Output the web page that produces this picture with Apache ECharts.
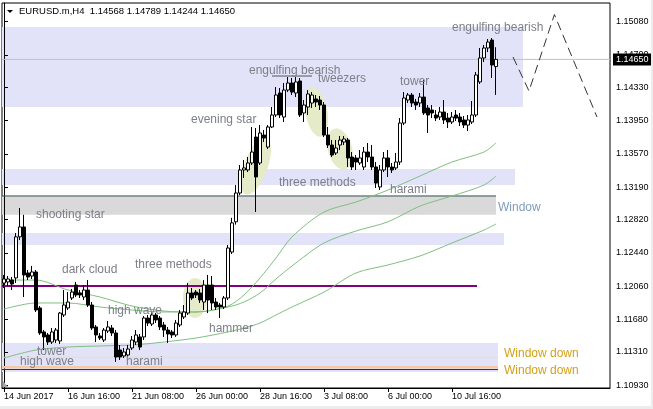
<!DOCTYPE html>
<html><head><meta charset="utf-8">
<script src="https://cdn.jsdelivr.net/npm/echarts@6/dist/echarts.min.js"></script>
<style>html,body{margin:0;padding:0;background:#fff}#c{width:653px;height:409px}</style>
</head><body><div id="c"></div>
<script>
const symbol = 'EURUSD.m,H4';
// H4 bars from 14 Jun 2017 00:00
const openP = [1.12096,1.12108,1.12130,1.12154,1.12623,1.12736,1.12211,1.12176,1.12222,1.11811,
1.11537,1.11503,1.11422,1.11445,1.11434,1.11731,1.11811,1.11925,1.12073,1.11982,
1.11936,1.12016,1.11845,1.11594,1.11491,1.11445,1.11548,1.11582,1.11525,1.11331,
1.11263,1.11274,1.11354,1.11422,1.11480,1.11480,1.11696,1.11628,1.11731,1.11696,
1.11617,1.11559,1.11537,1.11503,1.11617,1.11708,1.11753,1.11982,1.11993,1.11982,
1.11879,1.12073,1.12073,1.11879,1.11845,1.11822,1.11925,1.12450,1.12795,1.13124,
1.13387,1.13387,1.13467,1.13763,1.13467,1.13786,1.13649,1.13878,1.14015,1.14266,
1.13992,1.14300,1.14380,1.14266,1.14403,1.14038,1.14106,1.14152,1.14198,1.14186,
1.14129,1.13786,1.13672,1.13581,1.13672,1.13706,1.13729,1.13535,1.13524,1.13467,
1.13421,1.13592,1.13535,1.13421,1.13193,1.13387,1.13524,1.13421,1.13410,1.13478,
1.13923,1.14186,1.14243,1.14163,1.14152,1.14220,1.14095,1.14072,1.14015,1.13992,
1.14049,1.13980,1.13935,1.14015,1.13992,1.13958,1.13900,1.13935,1.14015,1.14392,
1.14666,1.14780,1.14871,1.14568];
const highP = [1.12188,1.12176,1.12165,1.12667,1.12953,1.12875,1.12245,1.12291,1.12245,1.11833,
1.11559,1.11525,1.11582,1.11582,1.11765,1.12016,1.11993,1.12028,1.12108,1.12016,
1.12073,1.12130,1.11879,1.11617,1.11525,1.11582,1.11662,1.11617,1.11559,1.11388,
1.11354,1.11388,1.11491,1.11559,1.11514,1.11719,1.11731,1.11765,1.11753,1.11719,
1.11651,1.11594,1.11559,1.11674,1.11788,1.11845,1.12096,1.12039,1.12016,1.12028,
1.12130,1.12188,1.12176,1.11925,1.11868,1.11948,1.12530,1.12840,1.13215,1.13444,
1.13501,1.13535,1.13878,1.13866,1.13900,1.13843,1.13900,1.14106,1.14334,1.14323,
1.14380,1.14449,1.14437,1.14449,1.14437,1.14186,1.14300,1.14277,1.14243,1.14232,
1.14163,1.13878,1.13729,1.13729,1.13775,1.13775,1.13752,1.13592,1.13558,1.13615,
1.13649,1.13695,1.13672,1.13478,1.13444,1.13592,1.13615,1.13467,1.13581,1.13980,
1.14277,1.14266,1.14266,1.14198,1.14266,1.14414,1.14129,1.14129,1.14072,1.14106,
1.14186,1.14038,1.14049,1.14072,1.14038,1.14003,1.14015,1.14175,1.14506,1.14780,
1.14814,1.14883,1.14894,1.14789];
const lowP = [1.12039,1.12062,1.12016,1.12096,1.12587,1.11936,1.12130,1.12142,1.11765,1.11503,
1.11331,1.11388,1.11400,1.11411,1.11400,1.11708,1.11788,1.11902,1.11936,1.11925,
1.11902,1.11822,1.11559,1.11422,1.11445,1.11422,1.11525,1.11491,1.11194,1.11217,
1.11240,1.11251,1.11331,1.11388,1.11331,1.11445,1.11605,1.11605,1.11639,1.11559,
1.11480,1.11411,1.11468,1.11480,1.11594,1.11685,1.11731,1.11902,1.11925,1.11868,
1.11788,1.11753,1.11788,1.11788,1.11696,1.11799,1.11902,1.12427,1.12763,1.13101,
1.13295,1.13364,1.13444,1.12907,1.13444,1.13706,1.13626,1.13866,1.13992,1.13980,
1.13935,1.14277,1.14243,1.14220,1.13992,1.13935,1.14015,1.14095,1.14106,1.14072,
1.13763,1.13638,1.13535,1.13558,1.13615,1.13672,1.13421,1.13387,1.13387,1.13444,
1.13387,1.13478,1.13387,1.13181,1.13158,1.13364,1.13307,1.13353,1.13387,1.13444,
1.13900,1.14152,1.14106,1.14072,1.14106,1.14015,1.13809,1.13980,1.13946,1.13958,
1.13912,1.13866,1.13912,1.13946,1.13889,1.13866,1.13832,1.13912,1.13992,1.14369,
1.14620,1.14734,1.14437,1.14244];
const closeP = [1.12142,1.12142,1.12085,1.12623,1.12736,1.12188,1.12165,1.12222,1.11788,1.11525,
1.11480,1.11422,1.11537,1.11559,1.11753,1.11845,1.11879,1.11993,1.11959,1.11959,
1.12016,1.11845,1.11582,1.11503,1.11468,1.11559,1.11594,1.11525,1.11251,1.11251,
1.11308,1.11342,1.11445,1.11503,1.11365,1.11696,1.11639,1.11731,1.11674,1.11594,
1.11559,1.11514,1.11503,1.11639,1.11753,1.11765,1.11982,1.11925,1.11959,1.11902,
1.12073,1.11902,1.11868,1.11822,1.11822,1.11925,1.12496,1.12783,1.13124,1.13387,
1.13410,1.13467,1.13592,1.13307,1.13809,1.13752,1.13878,1.14015,1.14243,1.14015,
1.14300,1.14380,1.14277,1.14392,1.14015,1.14129,1.14255,1.14243,1.14163,1.14129,
1.13786,1.13672,1.13558,1.13638,1.13729,1.13741,1.13524,1.13421,1.13478,1.13524,
1.13592,1.13535,1.13421,1.13238,1.13387,1.13524,1.13421,1.13387,1.13478,1.13923,
1.14209,1.14243,1.14152,1.14129,1.14220,1.14038,1.14015,1.14038,1.13980,1.14049,
1.13958,1.13935,1.13992,1.13980,1.13935,1.13900,1.13958,1.14015,1.14472,1.14666,
1.14780,1.14848,1.14586,1.14650];

const yTicks = [1.10930,1.11310,1.11680,1.12060,1.12440,1.12820,1.13190,1.13570,1.13950,1.14330,1.14700,1.15080];

// moving averages read at bar indices
const maIdx  = [0,8,16,24,32,40,48,56,60,64,68,72,80,88,96,104,112,120,123];
const maFast = [1.12130,1.12130,1.12016,1.11936,1.11833,1.11776,1.11765,1.11833,1.11959,1.12154,1.12382,1.12623,1.12907,1.13021,1.13158,1.13318,1.13478,1.13592,1.13695];
const maMid  = [1.11799,1.11868,1.11868,1.11822,1.11788,1.11765,1.11765,1.11822,1.11879,1.11982,1.12142,1.12291,1.12553,1.12690,1.12795,1.12975,1.13090,1.13215,1.13318];
const maSlow = [1.11240,1.11331,1.11365,1.11377,1.11388,1.11422,1.11468,1.11537,1.11582,1.11639,1.11731,1.11822,1.11993,1.12211,1.12302,1.12405,1.12553,1.12701,1.12770];

// zones (bar index range, price range)
const zoneStart  = [-0.5,-0.5,-0.5,-0.5,-0.5];
const zoneEnd    = [129.75,127.75,123,125,123.5];
const zoneTop    = [1.15020,1.13398,1.13090,1.12667,1.11411];
const zoneBottom = [1.14106,1.13215,1.12875,1.12530,1.11080];

// horizontal levels (last one = current price line)
const levelStart = [-0.5,-0.5,-0.5,-0.5,-0.5,67,-0.5];
const levelEnd   = [118.25,123,123.5,123.5,123.5,77,151.5];
const levelPrice = [1.12062,1.13090,1.11248,1.11133,1.11108,1.14460,1.14650];

// projection
const projIdx = [127.25,131.25,137.6,148.25];
const projP   = [1.14677,1.14289,1.15162,1.13992];

// highlight ellipses
const hlBar      = [63,78.1,84,47.75];
const hlP        = [1.13432,1.14049,1.13626,1.11925];
const hlHalfBars = [2.9,2.75,3,3];
const hlHalfP    = [0.00343,0.00286,0.00240,0.00228];
const hlTilt     = [20,-10,-15,0];

// pattern notes
const noteText = ['shooting star','dark cloud','three methods','high wave','hammer','tower','high wave','harami',
'evening star','engulfing bearish','tweezers','three methods','harami','tower','engulfing bearish'];
const noteBar = [8,14.5,32.75,26,51.25,8.25,4,30.5,46.75,61.25,78.5,68.75,96.5,99,112];
const noteP   = [1.12875,1.12245,1.12302,1.11776,1.11571,1.11308,1.11194,1.11194,1.13958,1.14517,1.14426,1.13238,1.13158,1.14392,1.15008];
const windowText = ['Window','Window down','Window down'];
const windowBar  = [123.5,125,125];
const windowP    = [1.12953,1.11285,1.11091];

// ---- build ----
const MONTHS = ['Jan','Feb','Mar','Apr','May','Jun','Jul','Aug','Sep','Oct','Nov','Dec'];
const barCount = openP.length;
const totalSlots = 152;
const categories = [];
let t = Date.UTC(2017,5,14,0,0);
while (categories.length < totalSlots) {
  const d = new Date(t), wd = d.getUTCDay();
  if (wd !== 0 && wd !== 6) {
    const hh = String(d.getUTCHours()).padStart(2,'0'), mm = String(d.getUTCMinutes()).padStart(2,'0');
    categories.push(categories.length === 0 ? d.getUTCDate()+' '+MONTHS[d.getUTCMonth()]+' '+d.getUTCFullYear()
      : d.getUTCDate()+' '+MONTHS[d.getUTCMonth()]+' '+hh+':'+mm);
  }
  t += 4*3600*1000;
}
const candleData = openP.map((o,i)=>[o, closeP[i], lowP[i], highP[i]]);
const last = barCount-1;
const titleText = symbol+'  '+[openP[last],highP[last],lowP[last],closeP[last]].map(v=>v.toFixed(5)).join(' ');
const FONT = 'Liberation Sans';
const zoneFill = ['#e2e3f8','#e2e3f8','#d9d9d9','#e2e3f8','#e2e3f8'];
const levelStyle = [{c:'#800080',w:2},{c:'#2f4f4f',w:1},{c:'#efdcb0',w:1},{c:'#f5c9a5',w:2.5},{c:'#27334f',w:1},{c:'#555555',w:1},{c:'#c0c0c0',w:1}];
const showTick = (i)=> i < barCount && i % 16 === 0;

const chart = echarts.init(document.getElementById('c'), null, {renderer:'canvas'});
chart.setOption({
  animation:false,
  backgroundColor:'#fff',
  textStyle:{fontFamily:FONT},
  grid:{left:2, right:43, top:3, bottom:21, show:true, borderColor:'#000', borderWidth:1, backgroundColor:'#fff', outerBoundsMode:'none'},
  xAxis:[{
    type:'category', data:categories, boundaryGap:true,
    axisLine:{show:true, lineStyle:{color:'#000'}},
    axisTick:{show:true, interval:(i)=>showTick(i), alignWithLabel:true, length:4, lineStyle:{color:'#000'}},
    axisLabel:{interval:(i)=>showTick(i), align:'left', margin:4, fontSize:9, color:'#000', fontFamily:FONT},
    splitLine:{show:false}
  },{
    type:'value', min:-0.5, max:totalSlots-0.5, show:false
  }],
  yAxis:{
    type:'value', position:'right', min:1.10897, max:1.15294,
    splitLine:{show:false},
    axisLine:{show:true, lineStyle:{color:'#000'}},
    axisTick:{show:true, length:4, customValues:yTicks, lineStyle:{color:'#000'}},
    axisLabel:{customValues:yTicks, formatter:(v)=>Number(v).toFixed(5), fontSize:9, color:'#000', margin:6, fontFamily:FONT}
  },
  graphic:[
    {type:'polygon', shape:{points:[[7,10],[13,10],[10,13]]}, style:{fill:'#000'}, z:100},
    {type:'text', x:19, y:6, style:{text:titleText, font:'9.5px "Liberation Sans"', fill:'#000'}, z:100},
    {type:'polygon', shape:{points:[[3,381],[3,387],[8,387]]}, style:{fill:'#a8a8a8'}, z:100},
    {type:'rect', shape:{x:0,y:406,width:653,height:3}, style:{fill:'#ececec'}, z:100},
    {type:'rect', shape:{x:651,y:0,width:2,height:409}, style:{fill:'#ececec'}, z:100}
  ],
  series:[
    {
      type:'custom', name:'zones', xAxisIndex:1, yAxisIndex:0, z:0, silent:true,
      data: zoneStart.map((s,i)=>[s, zoneEnd[i], zoneTop[i], zoneBottom[i]]),
      renderItem:(params, api)=>{
        const a = api.coord([api.value(0), api.value(2)]);
        const b = api.coord([api.value(1), api.value(3)]);
        return {type:'rect', shape:{x:a[0], y:a[1], width:b[0]-a[0], height:b[1]-a[1]}, style:{fill:zoneFill[params.dataIndex]}};
      }
    },
    {
      type:'custom', name:'highlights', xAxisIndex:1, yAxisIndex:0, z:1, silent:true,
      data: hlBar.map((b,i)=>[b, hlP[i], hlHalfBars[i], hlHalfP[i], hlTilt[i]]),
      renderItem:(params, api)=>{
        const c = api.coord([api.value(0), api.value(1)]);
        const bx = api.size([api.value(2), 0])[0];
        const ay = api.size([0, api.value(3)])[1];
        const th = api.value(4)*Math.PI/180;
        const pts = [];
        for (let k=0;k<60;k++){
          const u = k/60*2*Math.PI, lx = bx*Math.cos(u), ly = ay*Math.sin(u);
          pts.push([c[0]+lx*Math.cos(th)-ly*Math.sin(th), c[1]+lx*Math.sin(th)+ly*Math.cos(th)]);
        }
        return {type:'polygon', shape:{points:pts}, style:{fill:'#e5eac8'}};
      }
    },
    {type:'line', name:'MA fast', xAxisIndex:1, z:2, showSymbol:false, smooth:0.3, silent:true,
     data: maIdx.map((x,i)=>[x, maFast[i]]), lineStyle:{color:'#80bf80', width:1}},
    {type:'line', name:'MA mid', xAxisIndex:1, z:2, showSymbol:false, smooth:0.3, silent:true,
     data: maIdx.map((x,i)=>[x, maMid[i]]), lineStyle:{color:'#80bf80', width:1}},
    {type:'line', name:'MA slow', xAxisIndex:1, z:2, showSymbol:false, smooth:0.3, silent:true,
     data: maIdx.map((x,i)=>[x, maSlow[i]]), lineStyle:{color:'#80bf80', width:1}},
    {
      type:'custom', name:'levels', xAxisIndex:1, yAxisIndex:0, z:2, silent:true,
      data: levelStart.map((s,i)=>[s, levelEnd[i], levelPrice[i]]),
      renderItem:(params, api)=>{
        const a = api.coord([api.value(0), api.value(2)]);
        const b = api.coord([api.value(1), api.value(2)]);
        const st = levelStyle[params.dataIndex];
        return {type:'line', shape:{x1:a[0], y1:a[1], x2:b[0], y2:b[1]}, style:{stroke:st.c, lineWidth:st.w}};
      }
    },
    {
      type:'candlestick', name:symbol, xAxisIndex:0, z:3, barWidth:3, silent:true,
      data: candleData,
      itemStyle:{color:'#ffffff', color0:'#000000', borderColor:'#000000', borderColor0:'#000000', borderWidth:1}
    },
    {type:'line', name:'projection', xAxisIndex:1, z:4, showSymbol:false, silent:true,
     data: projIdx.map((x,i)=>[x, projP[i]]), lineStyle:{color:'#333', width:1, type:[9,5]}},
    {
      type:'custom', name:'priceTag', xAxisIndex:1, yAxisIndex:0, z:20, silent:true, clip:false,
      data: [[last, closeP[last]]],
      renderItem:(params, api)=>{
        const p = api.coord([api.value(0), api.value(1)]);
        const right = params.coordSys.x + params.coordSys.width;
        return {type:'text', x:right+3, y:p[1], z2:10,
          style:{text:api.value(1).toFixed(5), fill:'#fff', backgroundColor:'#000', padding:[2,3,1,3],
                 font:'9px "Liberation Sans"', align:'left', verticalAlign:'middle'}};
      }
    },
    {
      type:'custom', name:'notes', xAxisIndex:1, yAxisIndex:0, z:5, silent:true,
      data: noteBar.map((b,i)=>[b, noteP[i]]),
      renderItem:(params, api)=>{
        const p = api.coord([api.value(0), api.value(1)]);
        return {type:'text', x:p[0], y:p[1], style:{text:noteText[params.dataIndex], fill:'#7c7f88', font:'12px "Liberation Sans"', align:'left', verticalAlign:'middle'}};
      }
    },
    {
      type:'custom', name:'windows', xAxisIndex:1, yAxisIndex:0, z:5, silent:true,
      data: windowBar.map((b,i)=>[b, windowP[i]]),
      renderItem:(params, api)=>{
        const p = api.coord([api.value(0), api.value(1)]);
        const txt = windowText[params.dataIndex];
        return {type:'text', x:p[0], y:p[1], style:{text:txt, fill: txt==='Window' ? '#7f9cbd' : '#d4a017', font:'12px "Liberation Sans"', align:'left', verticalAlign:'middle'}};
      }
    }
  ]
});
</script></body></html>
